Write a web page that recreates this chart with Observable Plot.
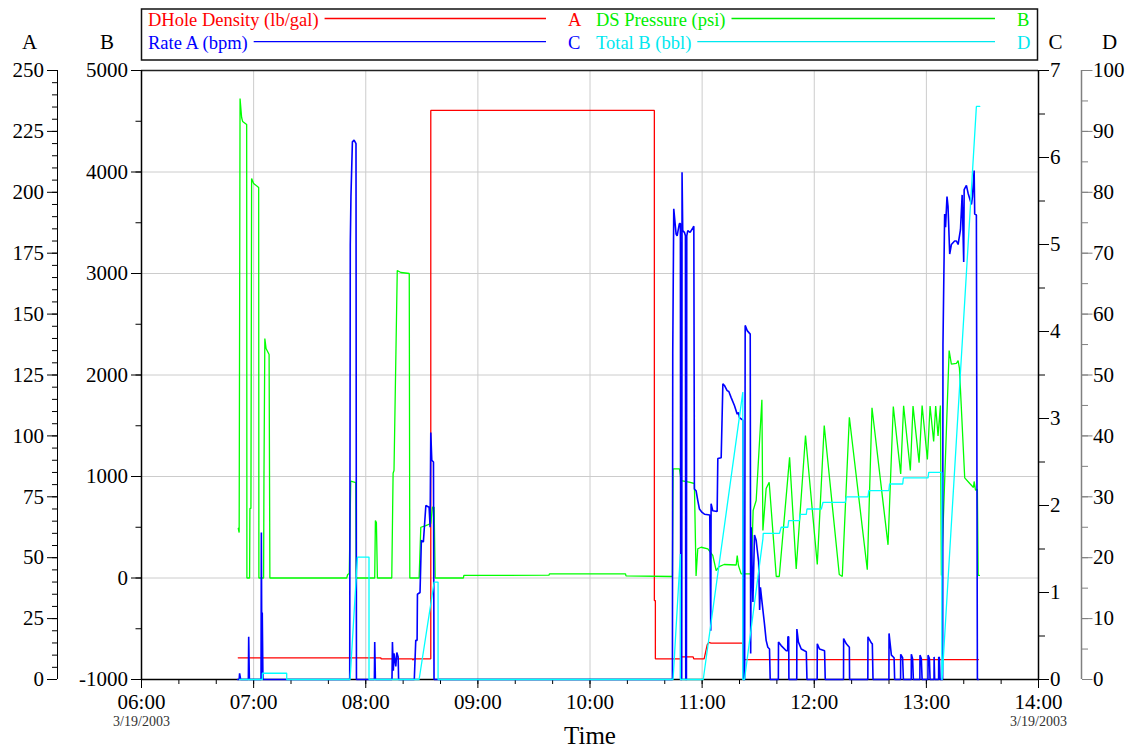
<!DOCTYPE html>
<html>
<head>
<meta charset="utf-8">
<script src="https://cdn.jsdelivr.net/npm/d3@7"></script>
<script src="https://cdn.jsdelivr.net/npm/@observablehq/plot@0.6"></script>
<style>
  body { margin: 0; background: #fff; }
  #chart { position: relative; width: 1130px; height: 749px; font-family: "Liberation Serif", "Times New Roman", serif; }
  #chart svg { position: absolute; left: 0; top: 0; }
</style>
</head>
<body>
<div id="chart"></div>
<script>
// Job log, 3/19/2003. Each point is [clock time in decimal hours, value].
const dholeDensity = [ // lb/gal, axis A
  [6.863, 8.9], [8.134, 8.9], [8.137, 8.5], [8.415, 8.5], [8.42, 8.0], [8.43, 8.5],
  [8.580, 8.5], [8.580, 233.6], [10.574, 233.6], [10.574, 32.4], [10.583, 32.4], [10.583, 8.5],
  [10.813, 8.5], [10.816, 9.3], [10.92, 9.3], [10.925, 8.5], [11.018, 8.5], [11.045, 14.2],
  [11.06, 15.2], [11.08, 14.9], [11.363, 14.9], [11.366, 8.2], [13.464, 8.2]
];

const dsPressure = [ // psi, axis B
  [6.863, 490], [6.871, 448], [6.879, 4724], [6.893, 4537], [6.902, 4498], [6.938, 4468],
  [6.940, 0], [6.964, 0], [6.967, 685], [6.976, 685], [6.982, 3936], [7.0, 3887], [7.045, 3847],
  [7.047, 0], [7.089, 0], [7.092, 941], [7.100, 2360], [7.111, 2261], [7.138, 2202], [7.145, 0],
  [7.830, 0], [7.839, 34], [7.853, 44], [7.866, 954], [7.911, 940], [7.915, 0],
  [8.080, 0], [8.086, 567], [8.095, 547], [8.104, 0], [8.232, 0], [8.244, 1032], [8.252, 1059],
  [8.281, 3030], [8.313, 3010], [8.388, 3000], [8.393, 0], [8.476, 0], [8.491, 500], [8.536, 517],
  [8.580, 537], [8.595, 697], [8.610, 697], [8.619, 0], [8.871, 0], [8.875, 25], [9.634, 28],
  [9.638, 40], [10.317, 40], [10.321, 20], [10.735, 15], [10.741, 1076], [10.798, 1076],
  [10.813, 960], [10.884, 944], [10.931, 931], [10.946, 20], [10.961, 288], [10.991, 303],
  [11.051, 288], [11.095, 222], [11.125, 74], [11.152, 113], [11.196, 133], [11.304, 128],
  [11.313, 222], [11.324, 123], [11.348, 41], [11.438, 41], [11.455, 665], [11.482, 764],
  [11.533, 1756], [11.542, 468], [11.571, 882], [11.598, 944], [11.661, 15], [11.688, 15],
  [11.780, 1190], [11.839, 90], [11.922, 1404], [12.027, 133], [12.089, 1502], [12.223, 34],
  [12.250, 15], [12.313, 1584], [12.473, 81], [12.515, 1677], [12.658, 327], [12.705, 1690],
  [12.771, 1026], [12.797, 1697], [12.857, 1059], [12.881, 1694], [12.935, 1137], [12.962, 1699],
  [13.009, 1167], [13.033, 1694], [13.065, 1345], [13.083, 1694], [13.104, 1400], [13.125, 1700],
  [13.134, 25], [13.203, 2241], [13.223, 2108], [13.268, 2115], [13.283, 2143], [13.295, 2064],
  [13.342, 986], [13.387, 931], [13.420, 892], [13.426, 951], [13.438, 866], [13.455, 872],
  [13.462, 25], [13.473, 25]
];

const rateA = [ // bpm, axis C
  [6.857, 0], [6.871, 0], [6.875, 0.07], [6.884, 0], [6.953, 0], [6.956, 0.49], [6.962, 0],
  [7.066, 0], [7.069, 1.69], [7.074, 0], [7.077, 0.77], [7.083, 0],
  [7.857, 0], [7.862, 5.0], [7.868, 5.55], [7.881, 6.18], [7.896, 6.20], [7.913, 6.16], [7.917, 0],
  [8.077, 0], [8.080, 0.43], [8.086, 0], [8.234, 0], [8.238, 0.43], [8.246, 0.1], [8.252, 0.30],
  [8.268, 0.15], [8.277, 0.31], [8.289, 0.26], [8.293, 0],
  [8.433, 0], [8.446, 0.45], [8.458, 0.45], [8.461, 0.98], [8.484, 1.0], [8.496, 1.60], [8.514, 1.58],
  [8.536, 2.0], [8.565, 1.98], [8.574, 1.75], [8.580, 2.84], [8.589, 2.52], [8.604, 2.50], [8.609, 0],
  [10.735, 0], [10.738, 3.75], [10.747, 5.41], [10.768, 5.12], [10.777, 5.10], [10.797, 5.24],
  [10.806, 5.24], [10.809, 0], [10.818, 0], [10.821, 5.83], [10.827, 5.16], [10.842, 5.14],
  [10.851, 5.10], [10.854, 0], [10.860, 0], [10.863, 5.10], [10.872, 5.16], [10.893, 5.14],
  [10.917, 5.19], [10.926, 5.21], [10.931, 2.19], [10.946, 2.17], [10.961, 2.06], [10.976, 1.96],
  [11.000, 1.92], [11.021, 1.90], [11.068, 1.89], [11.077, 0.56], [11.080, 2.02], [11.095, 1.94],
  [11.134, 1.93], [11.140, 2.54], [11.170, 2.55], [11.185, 3.40], [11.199, 3.38], [11.223, 3.32],
  [11.238, 3.31], [11.259, 3.24], [11.288, 3.15], [11.313, 3.05], [11.324, 3.07], [11.333, 3.01],
  [11.363, 2.98], [11.368, 0], [11.379, 0], [11.384, 4.07], [11.402, 4.01], [11.429, 3.97],
  [11.433, 0.3], [11.438, 1.75], [11.453, 0.89], [11.467, 1.66], [11.482, 1.60], [11.504, 1.35],
  [11.513, 0.8], [11.520, 1.06], [11.536, 0.87], [11.556, 0.64], [11.571, 0.45], [11.586, 0.37],
  [11.601, 0.35], [11.607, 0],
  [11.680, 0], [11.681, 0.43], [11.705, 0.39], [11.750, 0.33], [11.763, 0.33], [11.765, 0.49], [11.772, 0.49], [11.774, 0],
  [11.844, 0], [11.845, 0.58], [11.859, 0.43], [11.884, 0.35], [11.913, 0.33], [11.929, 0.32], [11.935, 0],
  [12.026, 0], [12.027, 0.41], [12.047, 0.35], [12.092, 0.33], [12.098, 0],
  [12.261, 0], [12.262, 0.47], [12.286, 0.41], [12.313, 0.37], [12.315, 0],
  [12.478, 0], [12.479, 0.49], [12.509, 0.42], [12.518, 0.41], [12.524, 0],
  [12.666, 0], [12.667, 0.53], [12.688, 0.28], [12.712, 0.25], [12.717, 0],
  [12.770, 0], [12.771, 0.29], [12.788, 0.25], [12.795, 0],
  [12.865, 0], [12.866, 0.29], [12.877, 0.24], [12.884, 0],
  [12.942, 0], [12.943, 0.28], [12.955, 0.24], [12.962, 0],
  [13.014, 0], [13.015, 0.28], [13.027, 0.24], [13.033, 0],
  [13.068, 0], [13.069, 0.26], [13.074, 0],
  [13.109, 0], [13.110, 0.26], [13.116, 0.25], [13.122, 0],
  [13.145, 0], [13.148, 3.85], [13.163, 5.35], [13.171, 5.20], [13.184, 5.55], [13.193, 5.44],
  [13.208, 4.89], [13.223, 5.00], [13.252, 5.04], [13.268, 5.04], [13.283, 5.00], [13.304, 5.17],
  [13.319, 5.57], [13.333, 4.80], [13.337, 5.63], [13.357, 5.68], [13.372, 5.59], [13.402, 5.46],
  [13.411, 5.55], [13.426, 5.85], [13.431, 5.35], [13.446, 5.34], [13.455, 0], [13.464, 0]
];

const totalB = [ // bbl, axis D
  [6.875, 0], [7.078, 0], [7.078, 1.03], [7.295, 1.03], [7.295, 0],
  [7.860, 0], [7.926, 20.1], [8.029, 20.1], [8.029, 0],
  [8.476, 0], [8.610, 16.0], [8.645, 16.0], [8.645, 0],
  [10.741, 0], [10.806, 20.6], [10.806, 0], [11.010, 0], [11.363, 47.2], [11.363, 0], [11.378, 0],
  [11.542, 23.1], [11.545, 24.0], [11.690, 24.0], [11.705, 25.0], [11.765, 25.0], [11.772, 26.1],
  [11.868, 26.1], [11.874, 27.1], [11.929, 27.1], [11.935, 28.0], [12.063, 28.0], [12.078, 29.1],
  [12.277, 29.1], [12.286, 30.0], [12.479, 30.0], [12.487, 31.0], [12.665, 31.0], [12.672, 32.1],
  [12.789, 32.1], [12.795, 33.1], [13.015, 33.1], [13.021, 34.0], [13.138, 34.0], [13.138, 0],
  [13.140, 0], [13.446, 94.1], [13.476, 94.1]
];

// Axis ticks
const hourTicks = [6, 7, 8, 9, 10, 11, 12, 13, 14];
const minorTimeTicks = d3.range(6, 14.001, 1 / 3);
const dateTicks = [6, 14];
const dateLabel = "3/19/2003";
const aTicks = d3.range(0, 251, 25), aMinor = d3.range(0, 251, 5);
const bTicks = d3.range(-1000, 5001, 1000), bMinor = d3.range(-1000, 5001, 500);
const cTicks = d3.range(0, 8, 1), cMinor = d3.range(0, 7.01, 0.5);
const dTicks = d3.range(0, 101, 10), dMinor = d3.range(0, 101, 5);
const bGrid = [0, 1000, 2000, 3000, 4000];

const legendRows = [
  [{name: "DHole Density  (lb/gal)", axis: "A", color: "#ff0000"}, {name: "DS Pressure (psi)", axis: "B", color: "#00ee00"}],
  [{name: "Rate A (bpm)", axis: "C", color: "#0000ff"}, {name: "Total B (bbl)", axis: "D", color: "#00e8f0"}]
];

const FONT = '"Liberation Serif", "Times New Roman", serif';
const W = 1130, H = 749;
const M = {top: 70, right: 92, bottom: 70, left: 141};
const day = Date.UTC(2003, 2, 19);
const at = h => new Date(day + h * 3600e3);
const xDomain = [at(6), at(14)];
const chart = document.getElementById("chart");

function layer(yDomain, marks) {
  const svg = Plot.plot({
    width: W, height: H,
    marginTop: M.top, marginRight: M.right, marginBottom: M.bottom, marginLeft: M.left,
    x: {type: "utc", domain: xDomain, axis: null},
    y: {domain: yDomain, axis: null},
    style: {fontFamily: FONT, fontSize: "21px", color: "black", background: "none", overflow: "visible"},
    marks
  });
  chart.appendChild(svg);
  return svg;
}

const blank = () => "";
const title = (letter, anchor, dx) =>
  Plot.text([letter], {text: d => d, frameAnchor: anchor, dx, dy: -28.5, textAnchor: "middle", lineAnchor: "middle", fontSize: 21});
const series = (data, color, width) =>
  Plot.line(data, {x: d => at(d[0]), y: d => d[1], stroke: color, strokeWidth: width, strokeLinejoin: "miter"});

// Base: grid, frame, time axis and axis B
layer([-1000, 5000], [
  Plot.gridX(hourTicks.slice(1, -1).map(at), {stroke: "#cccccc", strokeOpacity: 1}),
  Plot.gridY(bGrid, {stroke: "#cccccc", strokeOpacity: 1}),
  Plot.ruleY([5000], {stroke: "#222", strokeWidth: 1.5}),
  Plot.ruleY([-1000], {stroke: "black", strokeWidth: 1.5}),
  Plot.ruleX([xDomain[0]], {stroke: "black", strokeWidth: 1.5}),
  Plot.axisY(bTicks, {anchor: "left", tickSize: 10, tickPadding: 3.5, tickFormat: d => String(d), label: null}),
  Plot.axisY(bMinor, {anchor: "left", tickSize: 5.5, tickFormat: blank, label: null}),
  Plot.axisX(hourTicks.map(at), {anchor: "bottom", tickSize: 9, tickPadding: 6, tickFormat: d3.utcFormat("%H:%M"), label: null}),
  Plot.axisX(minorTimeTicks.map(at), {anchor: "bottom", tickSize: 5, tickFormat: blank, label: null}),
  Plot.text(dateTicks, {x: d => at(d), text: () => dateLabel, frameAnchor: "bottom", dy: 42.5, lineAnchor: "middle", fontSize: 14, fill: "#333"}),
  Plot.text(["Time"], {text: d => d, frameAnchor: "bottom", dy: 56.5, lineAnchor: "middle", fontSize: 25}),
  title("B", "top-left", -34.5)
]);

// Axis A: downhole density
layer([0, 250], [
  Plot.ruleX([xDomain[0]], {dx: -84, stroke: "black"}),
  Plot.axisY(aTicks, {anchor: "left", dx: -84, tickSize: 10, tickPadding: 3.5, tickFormat: d => String(d), label: null}),
  Plot.axisY(aMinor, {anchor: "left", dx: -84, tickSize: 5, tickFormat: blank, label: null}),
  title("A", "top-left", -112),
  series(dholeDensity, "#ff0000", 1.3)
]);

// Axis B: pressure
layer([-1000, 5000], [
  series(dsPressure, "#00ff00", 1.3)
]);

// Axis C: rate
layer([0, 7], [
  Plot.ruleX([xDomain[1]], {stroke: "black", strokeWidth: 1.5}),
  Plot.axisY(cTicks, {anchor: "right", tickSize: 10, tickPadding: 1.5, tickFormat: d => String(d), label: null}),
  Plot.axisY(cMinor, {anchor: "right", tickSize: 6, tickFormat: blank, label: null}),
  title("C", "top-right", 17),
  series(rateA, "#0000ff", 1.6)
]);

// Axis D: cumulative volume
layer([0, 100], [
  Plot.ruleX([xDomain[1]], {dx: 43, stroke: "#808080", strokeWidth: 1.5}),
  Plot.axisY(dTicks, {anchor: "right", dx: 43, tickSize: 10.5, tickPadding: 1, stroke: "#808080", fill: "black", tickFormat: d => String(d), label: null}),
  Plot.axisY(dMinor, {anchor: "right", dx: 43, tickSize: 6, stroke: "#808080", tickFormat: blank, label: null}),
  title("D", "top-right", 71),
  series(totalB, "#00ffff", 1.3)
]);

// Legend box above the plot frame
const ns = "http://www.w3.org/2000/svg";
const leg = document.createElementNS(ns, "svg");
leg.setAttribute("width", W);
leg.setAttribute("height", 70);
leg.style.fontFamily = FONT;
chart.appendChild(leg);
const el = (tag, attrs, text) => {
  const e = document.createElementNS(ns, tag);
  for (const k in attrs) e.setAttribute(k, attrs[k]);
  if (text != null) e.textContent = text;
  leg.appendChild(e);
  return e;
};
el("rect", {x: 141.5, y: 9, width: 896, height: 51, fill: "none", stroke: "#111", "stroke-width": 1.5});
const cols = [{x: 148, lineEnd: 546, letter: 568}, {x: 596, lineEnd: 995, letter: 1017}];
const rows = [{base: 26, line: 18.5}, {base: 48.5, line: 41.7}];
legendRows.forEach((row, r) => row.forEach((item, c) => {
  const t = el("text", {x: cols[c].x, y: rows[r].base, fill: item.color, "font-size": 18.5, "xml:space": "preserve"}, item.name);
  const end = cols[c].x + t.getComputedTextLength() + 6;
  el("line", {x1: end, x2: cols[c].lineEnd, y1: rows[r].line, y2: rows[r].line, stroke: item.color, "stroke-width": 1.3});
  el("text", {x: cols[c].letter, y: rows[r].base, fill: item.color, "font-size": 18.5}, item.axis);
}));
</script>
</body>
</html>
